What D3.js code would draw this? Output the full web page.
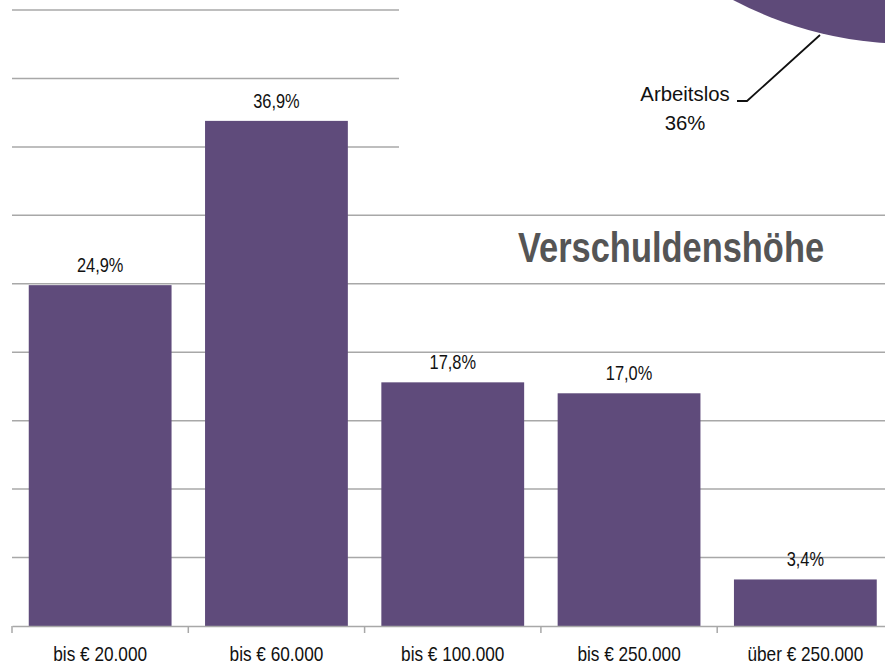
<!DOCTYPE html>
<html>
<head>
<meta charset="utf-8">
<script src="https://cdn.jsdelivr.net/npm/d3@7"></script>
<style>
  html, body { margin: 0; padding: 0; background: #fff; overflow: hidden; }
  svg { display: block; }
  text { font-family: "Liberation Sans", Arial, sans-serif; }
</style>
</head>
<body>
<div id="container"></div>
<script>
// debt level categories and their shares (in %)
var categories = ["bis € 20.000", "bis € 60.000", "bis € 100.000", "bis € 250.000", "über € 250.000"];
var shares = [24.9, 36.9, 17.8, 17.0, 3.4];
var shareLabels = ["24,9%", "36,9%", "17,8%", "17,0%", "3,4%"];
var gridTicks = [5, 10, 15, 20, 25, 30, 35, 40, 45];

// pie in the corner (only the "Arbeitslos" slice is visible)
var pieNames = ["Arbeitslos", "Rest"];
var pieValues = [36, 64];
var pieLabels = ["Arbeitslos", "36%"];

var svgWidth = 885, svgHeight = 666;
var narrow = 0.82; // the original font is condensed

var svg = d3.select("div#container")
    .append("svg")
    .attr("width", svgWidth)
    .attr("height", svgHeight);

// scales
var x = d3.scaleBand()
    .domain(categories)
    .range([12, 893.5])
    .paddingInner(0.19)
    .paddingOuter(0.095);

var y = d3.scaleLinear()
    .domain([0, 45])
    .range([626, 10]);

function place(px, py, sx) {
    return "translate(" + px + "," + py + ") scale(" + (sx || narrow) + ",1)";
}

// gridlines
svg.append("g")
    .selectAll("line")
    .data(gridTicks)
    .enter()
    .append("line")
    .attr("x1", 12)
    .attr("x2", svgWidth)
    .attr("y1", function (d) { return y(d); })
    .attr("y2", function (d) { return y(d); })
    .attr("stroke", "#a8a8a8")
    .attr("stroke-width", 1.5);

// white area behind the pie / label block (cuts the upper gridlines)
svg.append("rect")
    .attr("x", 399)
    .attr("y", 0)
    .attr("width", svgWidth - 399)
    .attr("height", y(32.5))
    .attr("fill", "#fff");

// bars
svg.append("g")
    .selectAll("rect")
    .data(shares)
    .enter()
    .append("rect")
    .attr("x", function (d, i) { return x(categories[i]); })
    .attr("y", function (d) { return y(d); })
    .attr("width", x.bandwidth())
    .attr("height", function (d) { return y(0) - y(d); })
    .attr("fill", "#5f4b7b");

// value labels
svg.append("g")
    .selectAll("text")
    .data(shares)
    .enter()
    .append("text")
    .attr("transform", function (d, i) {
        return place(x(categories[i]) + x.bandwidth() / 2, y(d) - 13);
    })
    .attr("text-anchor", "middle")
    .style("font-size", "20px")
    .style("fill", "#111")
    .text(function (d, i) { return shareLabels[i]; });

// x axis
var xAxis = svg.append("g")
    .attr("transform", "translate(0," + y(0) + ")")
    .call(d3.axisBottom(x).tickSize(0).tickPadding(20));
xAxis.select(".domain").attr("stroke", "#a8a8a8").attr("stroke-width", 1.5);
xAxis.selectAll("text")
    .attr("transform", "scale(" + narrow + ",1)")
    .style("font-size", "21px")
    .style("fill", "#111")
    .style("font-family", "'Liberation Sans', Arial, sans-serif");

// category separator ticks
var sepPositions = categories.map(function (c) { return x(c) - x.step() * x.paddingInner() / 2; });
xAxis.selectAll(".sep")
    .data(sepPositions)
    .enter()
    .append("line")
    .attr("class", "sep")
    .attr("x1", function (d) { return d; })
    .attr("x2", function (d) { return d; })
    .attr("y1", 0)
    .attr("y2", 7)
    .attr("stroke", "#a8a8a8")
    .attr("stroke-width", 1.5);

// title
svg.append("text")
    .attr("transform", place(671, 262))
    .attr("text-anchor", "middle")
    .style("font-size", "42px")
    .style("font-weight", "bold")
    .style("fill", "#555")
    .text("Verschuldenshöhe");

// pie slice in the top right corner
var defs = svg.append("defs");
var grad = defs.append("linearGradient")
    .attr("id", "pieGrad")
    .attr("gradientUnits", "userSpaceOnUse")
    .attr("x1", 720).attr("y1", 0)
    .attr("x2", 885).attr("y2", 0);
grad.append("stop").attr("offset", "0%").attr("stop-color", "#5e4a79");
grad.append("stop").attr("offset", "100%").attr("stop-color", "#4a3660");

var pie = d3.pie().sort(null).startAngle(Math.PI * 0.85).endAngle(Math.PI * 2.85);
var arc = d3.arc().innerRadius(0).outerRadius(382);

svg.append("g")
    .attr("transform", "translate(911,-338)")
    .selectAll("path")
    .data(pie(pieValues))
    .enter()
    .append("path")
    .attr("d", arc)
    .attr("fill", function (d, i) { return i === 0 ? "url(#pieGrad)" : "#8064a2"; });

// leader line
svg.append("path")
    .attr("d", "M820,35 L747,101 L737,101")
    .attr("fill", "none")
    .attr("stroke", "#111")
    .attr("stroke-width", 1.8);

svg.append("g")
    .selectAll("text")
    .data(pieLabels)
    .enter()
    .append("text")
    .attr("transform", function (d, i) { return place(685, 101 + i * 29, 0.97); })
    .attr("text-anchor", "middle")
    .style("font-size", "21px")
    .style("fill", "#111")
    .text(function (d) { return d; });
</script>
</body>
</html>
